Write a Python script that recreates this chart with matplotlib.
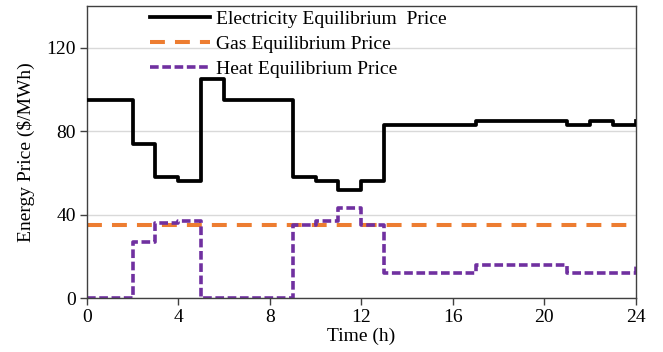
import matplotlib
matplotlib.use("Agg")
import matplotlib.pyplot as plt

hours = list(range(25))
electricity = [95, 95, 74, 58, 56, 105, 95, 95, 95, 58, 56, 52, 56, 83, 83, 83, 83, 85, 85, 85, 85, 83, 85, 83, 85]
gas = [35] * 25
heat = [0, 0, 27, 36, 37, 0, 0, 0, 0, 35, 37, 43, 35, 12, 12, 12, 12, 16, 16, 16, 16, 12, 12, 12, 16]
x_ticks = [0, 4, 8, 12, 16, 20, 24]
y_ticks = [0, 40, 80, 120]

plt.rcParams['font.family'] = ['Liberation Serif', 'DejaVu Serif']
plt.rcParams['font.size'] = 14

fig = plt.figure(figsize=(6.63, 3.52), dpi=100)
ax = fig.add_axes([0.131, 0.153, 0.828, 0.830])

ax.plot(hours, electricity, drawstyle='steps-post', color='black', lw=2.7,
        label='Electricity Equilibrium  Price', zorder=3)
ax.plot(hours, gas, color='#ED7D31', lw=2.9, dashes=(3.7, 2.5),
        label='Gas Equilibrium Price', zorder=2)
ax.plot(hours, heat, drawstyle='steps-post', color='#7030A0', lw=2.6, dashes=(2.4, 1.0),
        label='Heat Equilibrium Price', zorder=2)

ax.set_xlim(0, 24)
ax.set_ylim(0, 140)
ax.set_xticks(x_ticks)
ax.set_yticks(y_ticks)
ax.yaxis.grid(True, color='#d9d9d9', lw=1)
ax.set_axisbelow(True)
for s in ax.spines.values():
    s.set_color('#404040')
    s.set_linewidth(1)
ax.tick_params(direction='out', length=5, width=1, color='#404040', pad=3)

ax.set_xlabel('Time (h)', labelpad=1)
ax.set_ylabel('Energy Price ($/MWh)', labelpad=8)

leg = ax.legend(loc='upper left', bbox_to_anchor=(0.1, 1.012), frameon=False,
                handlelength=3.1, handletextpad=0.3, labelspacing=0.38, borderaxespad=0)

fig.savefig('out.png', dpi=100)
